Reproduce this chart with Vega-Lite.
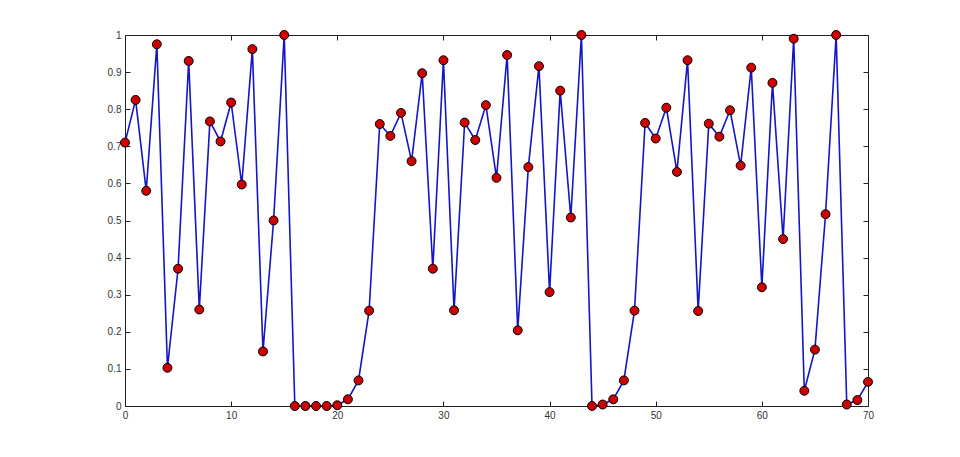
{
  "$schema": "https://vega.github.io/schema/vega-lite/v6.json",
  "width": 743,
  "height": 371,
  "autosize": {"type": "none"},
  "padding": {"left": 125, "top": 35, "right": 92, "bottom": 51},
  "background": "white",
  "config": {
    "view": {"stroke": "#222222", "strokeWidth": 1},
    "axis": {
      "grid": false,
      "domain": false,
      "tickColor": "#222222",
      "tickSize": -5,
      "labelFlush": false,
      "labelFont": "Liberation Sans",
      "labelFontSize": 10,
      "labelColor": "#333333"
    }
  },
  "data": {
    "values": [
      {"x": 0, "y": 0.71}, {"x": 1, "y": 0.825}, {"x": 2, "y": 0.58}, {"x": 3, "y": 0.975},
      {"x": 4, "y": 0.103}, {"x": 5, "y": 0.37}, {"x": 6, "y": 0.93}, {"x": 7, "y": 0.26},
      {"x": 8, "y": 0.767}, {"x": 9, "y": 0.713}, {"x": 10, "y": 0.818}, {"x": 11, "y": 0.597},
      {"x": 12, "y": 0.962}, {"x": 13, "y": 0.147}, {"x": 14, "y": 0.5}, {"x": 15, "y": 1.0},
      {"x": 16, "y": 0}, {"x": 17, "y": 0}, {"x": 18, "y": 0}, {"x": 19, "y": 0},
      {"x": 20, "y": 0.002}, {"x": 21, "y": 0.018}, {"x": 22, "y": 0.069}, {"x": 23, "y": 0.257},
      {"x": 24, "y": 0.76}, {"x": 25, "y": 0.728}, {"x": 26, "y": 0.79}, {"x": 27, "y": 0.66},
      {"x": 28, "y": 0.897}, {"x": 29, "y": 0.37}, {"x": 30, "y": 0.932}, {"x": 31, "y": 0.258},
      {"x": 32, "y": 0.764}, {"x": 33, "y": 0.717}, {"x": 34, "y": 0.811}, {"x": 35, "y": 0.615},
      {"x": 36, "y": 0.946}, {"x": 37, "y": 0.204}, {"x": 38, "y": 0.644}, {"x": 39, "y": 0.916},
      {"x": 40, "y": 0.307}, {"x": 41, "y": 0.85}, {"x": 42, "y": 0.508}, {"x": 43, "y": 1.0},
      {"x": 44, "y": 0}, {"x": 45, "y": 0.004}, {"x": 46, "y": 0.018}, {"x": 47, "y": 0.069},
      {"x": 48, "y": 0.257}, {"x": 49, "y": 0.763}, {"x": 50, "y": 0.721}, {"x": 51, "y": 0.804},
      {"x": 52, "y": 0.631}, {"x": 53, "y": 0.932}, {"x": 54, "y": 0.256}, {"x": 55, "y": 0.761},
      {"x": 56, "y": 0.726}, {"x": 57, "y": 0.797}, {"x": 58, "y": 0.648}, {"x": 59, "y": 0.912},
      {"x": 60, "y": 0.32}, {"x": 61, "y": 0.871}, {"x": 62, "y": 0.45}, {"x": 63, "y": 0.99},
      {"x": 64, "y": 0.041}, {"x": 65, "y": 0.152}, {"x": 66, "y": 0.517}, {"x": 67, "y": 1.0},
      {"x": 68, "y": 0.004}, {"x": 69, "y": 0.016}, {"x": 70, "y": 0.065}
    ]
  },
  "layer": [
    {
      "mark": {"type": "line", "color": "#1414c8", "strokeWidth": 1.6},
      "encoding": {
        "x": {"field": "x", "type": "quantitative", "title": null,
              "scale": {"domain": [0, 70], "nice": false, "zero": false},
              "axis": {"values": [0, 10, 20, 30, 40, 50, 60, 70], "labelPadding": 9, "orient": "bottom"}},
        "y": {"field": "y", "type": "quantitative", "title": null,
              "scale": {"domain": [0, 1], "nice": false},
              "axis": {"values": [0, 0.1, 0.2, 0.3, 0.4, 0.5, 0.6, 0.7, 0.8, 0.9, 1], "format": "~g", "labelPadding": 9, "orient": "left"}}
      }
    },
    {
      "mark": {"type": "point", "filled": true, "fill": "#cc0000", "stroke": "#000000", "strokeWidth": 1, "size": 80, "opacity": 1},
      "encoding": {
        "x": {"field": "x", "type": "quantitative",
              "axis": {"values": [0, 10, 20, 30, 40, 50, 60, 70], "labels": false, "orient": "top", "title": null}},
        "y": {"field": "y", "type": "quantitative",
              "axis": {"values": [0, 0.1, 0.2, 0.3, 0.4, 0.5, 0.6, 0.7, 0.8, 0.9, 1], "labels": false, "orient": "right", "title": null}}
      }
    }
  ],
  "resolve": {"axis": {"x": "independent", "y": "independent"}}
}
